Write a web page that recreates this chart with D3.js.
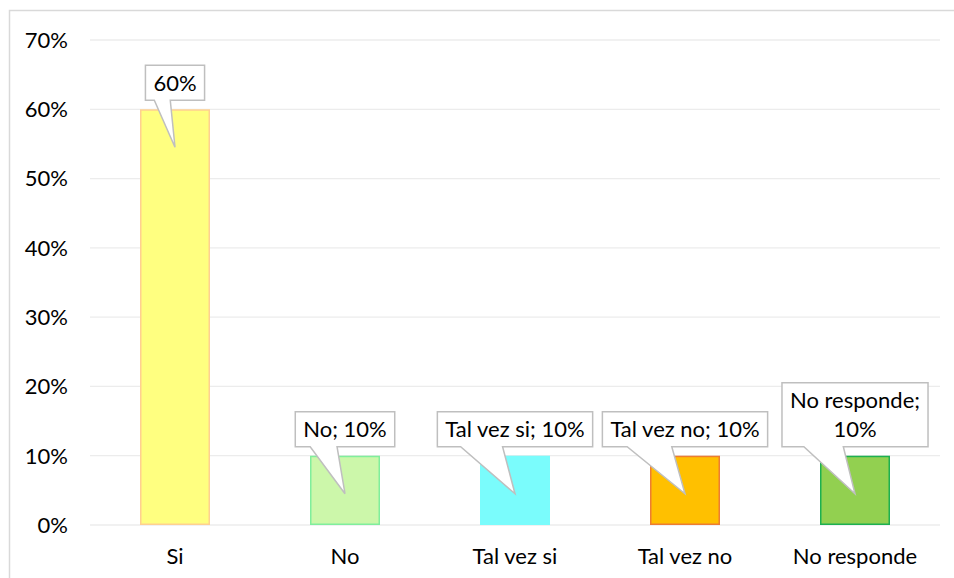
<!DOCTYPE html>
<html>
<head>
<meta charset="utf-8">
<script src="https://cdn.jsdelivr.net/npm/d3@7"></script>
<style>
  body { margin: 0; background: #fff; overflow: hidden; }
  svg { display: block; font-family: Lato, "Open Sans", sans-serif; }
</style>
</head>
<body>
<svg id="chart" width="954" height="578"></svg>
<script>
const categories = ["Si", "No", "Tal vez si", "Tal vez no", "No responde"];
const values = [0.6, 0.1, 0.1, 0.1, 0.1];
const labelLines = [["60%"], ["No; 10%"], ["Tal vez si; 10%"], ["Tal vez no; 10%"], ["No responde;", "10%"]];
const fills = ["#ffff80", "#ccf7aa", "#7afcfc", "#ffc000", "#92d050"];
const strokes = ["#ffd090", "#80ee9c", "#7afcfc", "#ed7d31", "#1db050"];
const yTicks = [0, 0.1, 0.2, 0.3, 0.4, 0.5, 0.6, 0.7];

const svg = d3.select("#chart");
const fontSize = 22;

// chart area frame: only top and left edges are inside the picture
svg.append("path")
  .attr("d", "M9.5,578V10.5H954")
  .attr("fill", "none").attr("stroke", "#d9d9d9").attr("stroke-width", 1.5);

const x = d3.scaleBand().domain(categories).range([90, 940])
  .paddingInner(100 / 170).paddingOuter(50 / 170);
const y = d3.scaleLinear().domain([0, 0.7]).range([525, 40]);

// gridlines
svg.append("g").selectAll("line").data(yTicks).join("line")
  .attr("x1", 90).attr("x2", 940)
  .attr("y1", d => y(d)).attr("y2", d => y(d))
  .attr("stroke", "#ececec").attr("stroke-width", 1.3);

// y tick labels
svg.append("g").selectAll("text").data(yTicks).join("text")
  .attr("x", 68).attr("y", d => y(d)).attr("dy", "0.36em")
  .attr("text-anchor", "end").attr("font-size", fontSize).attr("fill", "#000")
  .text(d3.format(".0%"));

// category labels
svg.append("g").selectAll("text").data(categories).join("text")
  .attr("x", d => x(d) + x.bandwidth() / 2).attr("y", 564)
  .attr("text-anchor", "middle").attr("font-size", fontSize).attr("fill", "#000")
  .text(d => d);

// bars
svg.append("g").selectAll("rect").data(categories).join("rect")
  .attr("x", d => x(d) + 0.75)
  .attr("y", (d, i) => y(values[i]) + 0.75)
  .attr("width", x.bandwidth() - 1.5)
  .attr("height", (d, i) => y(0) - y(values[i]) - 1.5)
  .attr("fill", (d, i) => fills[i])
  .attr("stroke", (d, i) => strokes[i]).attr("stroke-width", 1.5);

// callouts
const lineH = 29;
const callouts = svg.append("g");
categories.forEach((c, i) => {
  const cx = x(c) + x.bandwidth() / 2;
  const vy = y(values[i]);
  const lines = labelLines[i];
  const g = callouts.append("g");
  const texts = g.selectAll("text").data(lines).join("text")
    .attr("text-anchor", "middle").attr("font-size", fontSize).attr("fill", "#000")
    .text(d => d);
  let tw = 0;
  texts.each(function () { tw = Math.max(tw, this.getComputedTextLength()); });
  const w = tw + 16;
  const h = lines.length * lineH + 6;
  const bottom = vy - 9;
  const top = bottom - h;
  const left = cx - w / 2;
  const tipY = vy + 38;
  const path = d3.path();
  path.moveTo(left, top);
  path.lineTo(left + w, top);
  path.lineTo(left + w, bottom);
  path.lineTo(left + w * 0.42, bottom);
  path.lineTo(cx, tipY);
  path.lineTo(left + w * 0.15, bottom);
  path.lineTo(left, bottom);
  path.closePath();
  g.insert("path", "text").attr("d", path.toString())
    .attr("fill", "#fff").attr("stroke", "#bfbfbf").attr("stroke-width", 1.5)
    .attr("stroke-linejoin", "miter");
  texts.attr("x", cx)
    .attr("y", (d, j) => top + 3 + lineH * j + lineH / 2)
    .attr("dy", "0.36em");
});
</script>
</body>
</html>
